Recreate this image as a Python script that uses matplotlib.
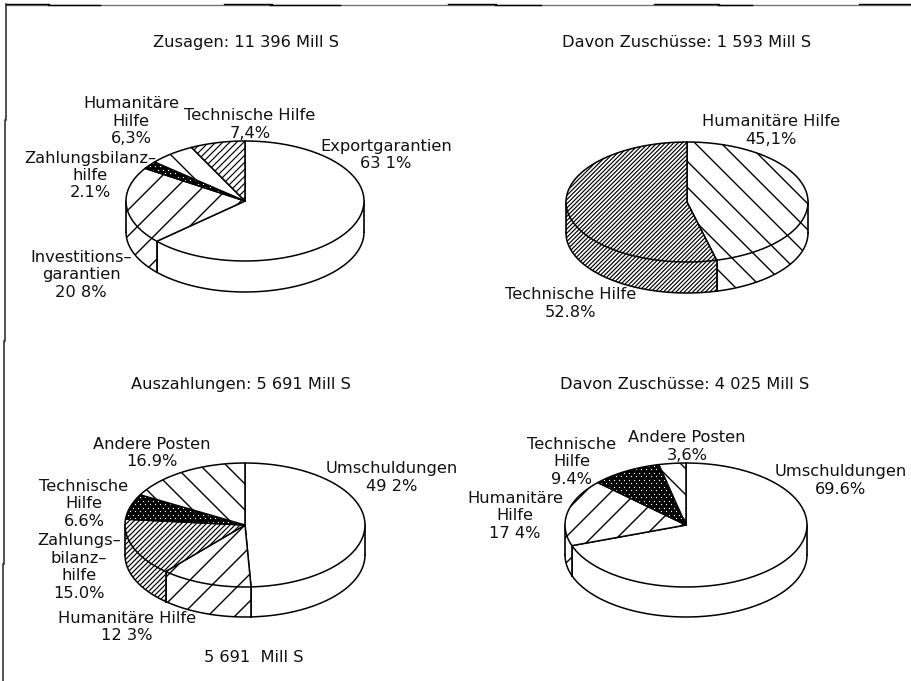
import numpy as np
import matplotlib
matplotlib.use("Agg")
import matplotlib.pyplot as plt
from matplotlib.patches import Polygon

# ---- data ----
zusagen_labels = ["Exportgarantien", "Investitionsgarantien", "Zahlungsbilanzhilfe", "Humanitäre Hilfe", "Technische Hilfe"]
zusagen_values = [63.1, 20.8, 2.1, 6.3, 7.4]
zuschuss1_labels = ["Humanitäre Hilfe", "Technische Hilfe"]
zuschuss1_values = [45.1, 52.8]
auszahl_labels = ["Umschuldungen", "Humanitäre Hilfe", "Zahlungsbilanzhilfe", "Technische Hilfe", "Andere Posten"]
auszahl_values = [49.2, 12.3, 15.0, 6.6, 16.9]
zuschuss2_labels = ["Umschuldungen", "Humanitäre Hilfe", "Technische Hilfe", "Andere Posten"]
zuschuss2_values = [69.6, 17.4, 9.4, 3.6]

titles = ["Zusagen: 11 396 Mill S", "Davon Zuschüsse: 1 593 Mill S",
          "Auszahlungen: 5 691 Mill S", "Davon Zuschüsse: 4 025 Mill S"]

# ---- drawing helpers ----
FS = 11.7
fig = plt.figure(figsize=(9.11, 6.81), dpi=100)
ax = fig.add_axes([0, 0, 1, 1])
ax.set_xlim(0, 911)
ax.set_ylim(681, 0)
ax.axis("off")


def hatch_lines(patch, direction, spacing, phase, lw):
    """Diagonals clipped to a patch: x+y=const ('/', direction 1), x-y=const ('\\', direction -1)."""
    for c in np.arange(phase - 60 * spacing, phase + 60 * spacing, spacing):
        xs = np.array([0.0, 911.0])
        ys = c - xs if direction == 1 else xs - c
        ln, = ax.plot(xs, ys, color="black", lw=lw, zorder=patch.get_zorder() + 0.1,
                      solid_capstyle="butt", scalex=False, scaley=False)
        ln.set_clip_path(patch)


def dots(patch, cx, cy):
    xs, ys = [], []
    for i, y in enumerate(np.arange(cy - 70, cy + 70, 3.5)):
        for x in np.arange(cx - 130 + (i % 2) * 2.5, cx + 130, 5):
            xs.append(x)
            ys.append(y)
    sc = ax.scatter(xs, ys, s=0.9, color="white", linewidths=0, zorder=patch.get_zorder() + 0.1)
    sc.set_clip_path(patch)


def decorate(patch, style, cx, cy):
    if style is None:
        return
    if style == "dots":
        dots(patch, cx, cy)
        return
    direction, spacing, phase = style
    hatch_lines(patch, direction, spacing, phase, 1.0 if spacing > 10 else 0.85)


def pie3d(values, styles, cx, cy, rx, ry, depth):
    v = np.array(values, dtype=float)
    edges = np.concatenate([[0], np.cumsum(v) / v.sum()]) * 2 * np.pi
    z = 2
    for i, st in enumerate(styles):
        a0, a1 = edges[i], edges[i + 1]
        t = np.linspace(a0, a1, 200)
        ex = cx + rx * np.sin(t)
        ey = cy - ry * np.cos(t)
        face = "black" if st == "dots" else "white"
        # side wall: only the front half (90..270 degrees clockwise from top)
        b0, b1 = max(a0, np.pi / 2), min(a1, 3 * np.pi / 2)
        if b1 > b0:
            w = np.linspace(b0, b1, 200)
            wx = cx + rx * np.sin(w)
            wy = cy - ry * np.cos(w)
            wall = Polygon(np.r_[np.c_[wx, wy], np.c_[wx[::-1], wy[::-1] + depth]],
                           closed=True, fc=face, ec="none", zorder=z)
            ax.add_patch(wall)
            decorate(wall, st, cx, cy)
            ax.plot(wx, wy + depth, color="black", lw=1.1, zorder=z + 0.5)
            for ang in (b0, b1):
                x = cx + rx * np.sin(ang)
                y = cy - ry * np.cos(ang)
                ax.plot([x, x], [y, y + depth], color="black", lw=1.2, zorder=z + 0.5)
        top = Polygon(np.r_[[[cx, cy]], np.c_[ex, ey]], closed=True, fc=face, ec="none", zorder=z + 1)
        ax.add_patch(top)
        decorate(top, st, cx, cy)
        ax.plot(np.r_[cx, ex, cx], np.r_[cy, ey, cy], color="black", lw=1.1, zorder=z + 1.5)
        z += 2


def label(x, y, s):
    ax.text(x, y, s, fontsize=FS, ha="center", va="center", linespacing=1.2,
            color="#111111", zorder=30, family="DejaVu Sans")


# ---- pies ----
pie3d(zusagen_values, [None, (1, 26, 338), "dots", (-1, 30, 16), (1, 7, 400)], 245, 201, 119, 60, 31)
pie3d(zuschuss1_values, [(-1, 26, 604), (1, 4.2, 800)], 687, 202, 121, 60, 31)
pie3d(auszahl_values, [None, (1, 27, 770), (1, 5, 700), "dots", (-1, 26, -239)], 245, 525, 120, 62, 30)
pie3d(zuschuss2_values, [None, (1, 26, 1103), "dots", (-1, 26, 191)], 686, 525, 121, 62, 30)

# ---- titles ----
for (x, y), t in zip([(246, 42), (687, 42.5), (241, 384), (685, 384.5)], titles):
    label(x, y, t)

# ---- slice labels ----
label(131, 121, "Humanitäre\nHilfe\n6,3%")
label(250, 124.5, "Technische Hilfe\n7,4%")
label(386, 155, "Exportgarantien\n63 1%")
label(90, 175.5, "Zahlungsbilanz–\nhilfe\n2.1%")
label(81, 275, "Investitions–\ngarantien\n20 8%")
label(771, 130.5, "Humanitäre Hilfe\n45,1%")
label(571, 303.5, "Technische Hilfe\n52.8%")
label(152, 453, "Andere Posten\n16.9%")
label(392, 477.5, "Umschuldungen\n49 2%")
label(84, 504, "Technische\nHilfe\n6.6%")
label(79, 567, "Zahlungs–\nbilanz–\nhilfe\n15.0%")
label(127, 627, "Humanitäre Hilfe\n12 3%")
label(254, 658, "5 691  Mill S")
label(687, 446.5, "Andere Posten\n3,6%")
label(572, 462, "Technische\nHilfe\n9.4%")
label(515, 516, "Humanitäre\nHilfe\n17 4%")
label(841, 480.5, "Umschuldungen\n69.6%")

# ---- scanned page frame ----
ax.plot([6, 911], [4.5, 4.5], color="#777777", lw=1.0)
for x0, x1 in [(6, 49), (224, 272), (448, 496), (654, 719), (859, 911)]:
    ax.plot([x0, x1], [3.7, 3.7], color="black", lw=1.0)
for x0, x1 in [(48, 100), (270, 340), (495, 541), (718, 752)]:
    ax.plot([x0, x1], [5.4, 5.4], color="black", lw=1.0)
for x0, y0, y1 in [(6, 4, 120), (5, 120, 341), (4, 341, 564), (3, 564, 681)]:
    ax.plot([x0, x0], [y0, y1], color="#222222", lw=1.1)

fig.savefig("out.png", dpi=100, facecolor="white")
